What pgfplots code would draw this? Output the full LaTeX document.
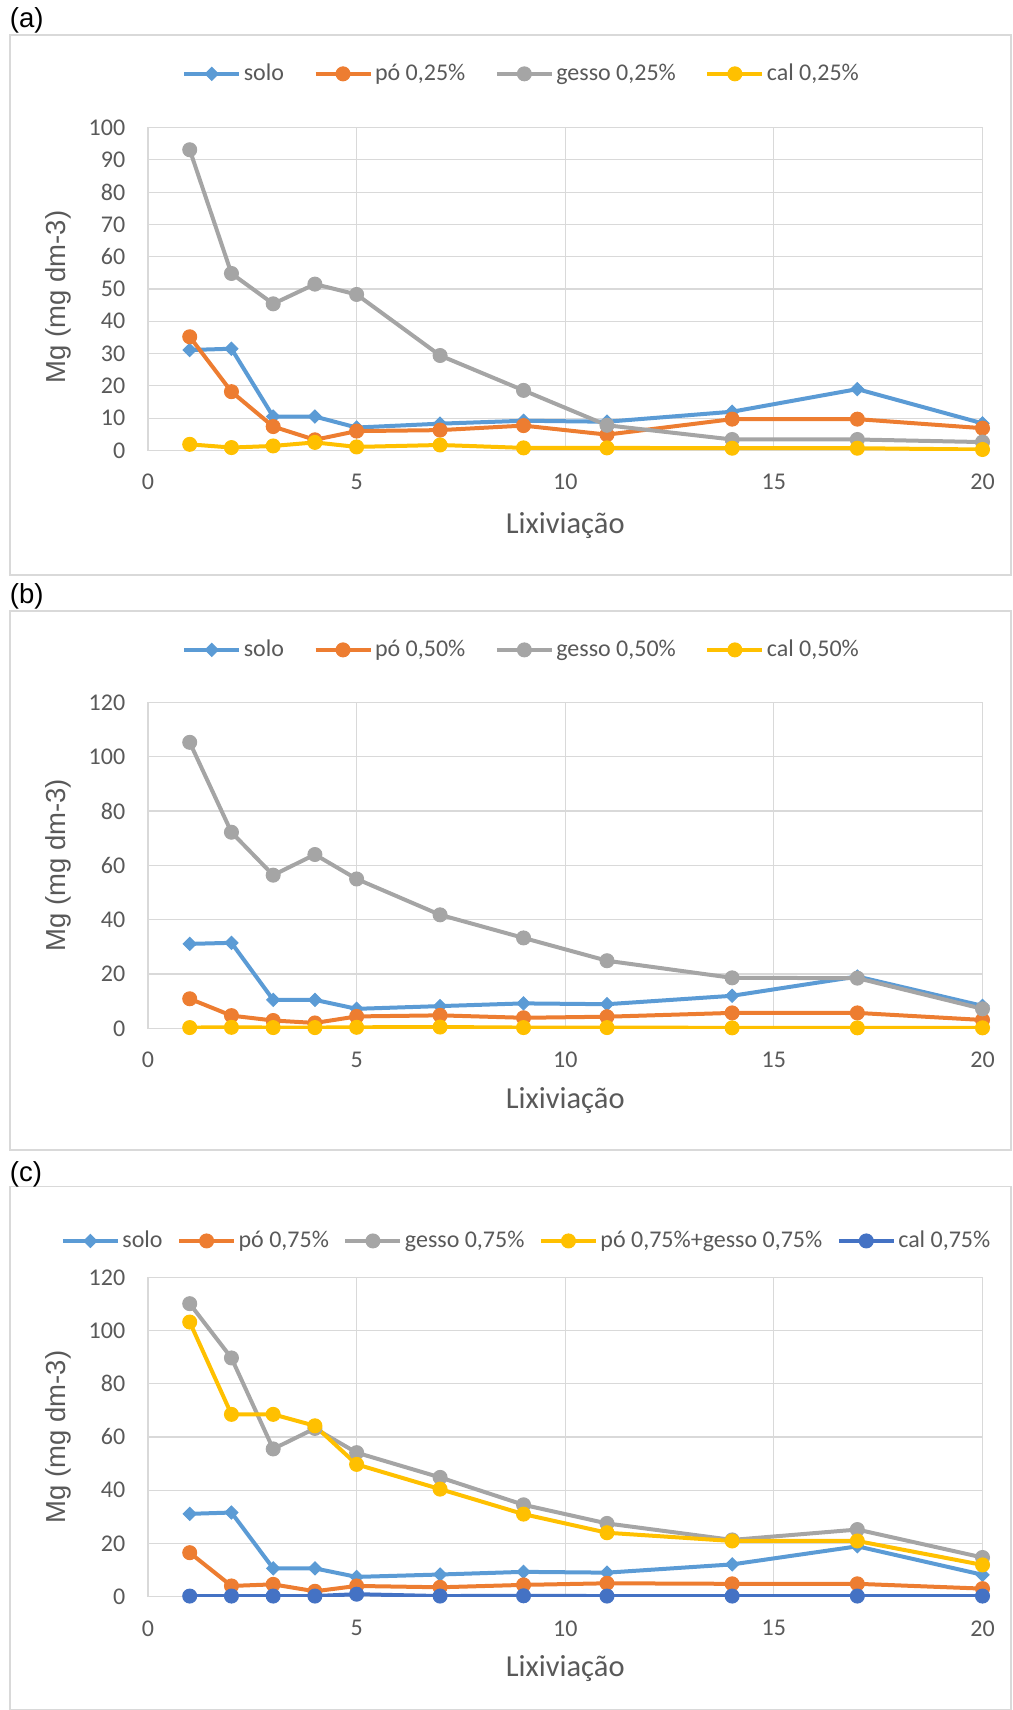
\documentclass[border=0pt]{standalone}
\usepackage{fontspec}
\setmainfont{Carlito}
\newfontfamily\arial{Liberation Sans}
\usepackage{pgfplots}
\pgfplotsset{compat=1.18}
\definecolor{cblue}{HTML}{5B9BD5}
\definecolor{corange}{HTML}{ED7D31}
\definecolor{cgray}{HTML}{A5A5A5}
\definecolor{cyellow}{HTML}{FFC000}
\definecolor{cdblue}{HTML}{4472C4}
\definecolor{gridc}{HTML}{D9D9D9}
\definecolor{txt}{HTML}{595959}
\pgfplotsset{
  panel/.style={
    scale only axis, width=333.8pt,
    xmin=0, xmax=20, ymin=0, xtick={0,5,10,15,20},
    grid=major, grid style={line width=0.45pt, color=gridc},
    axis line style={gridc, line width=0.45pt},
    major tick length=0pt,
    /pgf/number format/assume math mode=true,
    ticklabel style={font=\fontsize{9.6}{11}\selectfont, text=txt},
    xticklabel style={yshift=-6pt},
    yticklabel style={xshift=-5.6pt},
    ylabel={Mg (mg dm-3)},
    xlabel={Lixiviação},
    xlabel style={font=\fontsize{12.2}{14}\selectfont, text=txt},
    legend columns=-1,
    legend style={draw=none, fill=none, font=\fontsize{9.6}{11}\selectfont, text=txt,
      anchor=center, inner sep=0pt,
      nodes={inner xsep=1pt}},
    legend image code/.code={\draw[mark repeat=2,mark phase=2] plot coordinates {(0pt,0pt) (11pt,0pt) (22pt,0pt)};},
  },
  ylab/.style={every axis y label/.style={at={(axis description cs:-0.107,#1)}, rotate=90, anchor=center,
      font=\arial\fontsize{11}{13}\selectfont, text=txt}},
  ser/.style={color=#1, line width=1.6pt, mark=*, mark size=2.8pt, mark options={solid, fill=#1, draw=#1, line width=0.4pt}},
  serd/.style={color=#1, line width=1.6pt, mark=square*, mark size=1.85pt, mark options={solid, rotate=45, fill=#1, draw=#1, line width=0.4pt}},
}
\begin{document}
\begin{tikzpicture}
\path (0,0) rectangle (404.8pt,684pt);
% frames
\draw[gridc, line width=0.45pt] (4pt,454pt) rectangle (404.4pt,670pt);
\draw[gridc, line width=0.45pt] (4pt,224pt) rectangle (404.4pt,439.6pt);
\draw[gridc, line width=0.45pt] (4pt,0.3pt) rectangle (404.4pt,209.4pt);
\node[anchor=west, inner sep=0pt, font=\arial\fontsize{11}{13}\selectfont] at (3.8pt,676pt) {(a)};
\node[anchor=west, inner sep=0pt, font=\arial\fontsize{11}{13}\selectfont] at (3.8pt,445.6pt) {(b)};
\node[anchor=west, inner sep=0pt, font=\arial\fontsize{11}{13}\selectfont] at (3.8pt,214.4pt) {(c)};

% (a)
\begin{axis}[panel, ylab=0.475, at={(59.2pt,503.8pt)}, anchor=south west, height=129.2pt,
  ymax=100, ytick={0,10,...,100},
  xlabel style={at={(axis description cs:0.5,-0.231)}, anchor=center},
  legend style={at={(0.448,1.166)}, /tikz/every even column/.append style={column sep=10.8pt}}]
\addplot[serd=cblue] coordinates {(1,31.1)(2,31.5)(3,10.5)(4,10.5)(5,7.1)(7,8.3)(9,9.2)(11,8.9)(14,12)(17,19)(20,8.4)};
\addlegendentry{solo}
\addplot[ser=corange] coordinates {(1,35.2)(2,18.2)(3,7.4)(4,3.3)(5,6.0)(7,6.3)(9,7.7)(11,4.9)(14,9.7)(17,9.7)(20,6.9)};
\addlegendentry{pó 0,25\%}
\addplot[ser=cgray] coordinates {(1,93.1)(2,54.8)(3,45.4)(4,51.5)(5,48.3)(7,29.4)(9,18.6)(11,7.8)(14,3.4)(17,3.4)(20,2.6)};
\addlegendentry{gesso 0,25\%}
\addplot[ser=cyellow] coordinates {(1,1.9)(2,0.9)(3,1.4)(4,2.5)(5,1.1)(7,1.7)(9,0.8)(11,0.8)(14,0.7)(17,0.7)(20,0.3)};
\addlegendentry{cal 0,25\%}
\end{axis}

% (b)
\begin{axis}[panel, ylab=0.5, at={(59.2pt,272.64pt)}, anchor=south west, height=130.4pt,
  ymax=120, ytick={0,20,...,120},
  xlabel style={at={(axis description cs:0.5,-0.220)}, anchor=center},
  legend style={at={(0.448,1.161)}, /tikz/every even column/.append style={column sep=10.8pt}}]
\addplot[serd=cblue] coordinates {(1,31.1)(2,31.5)(3,10.5)(4,10.5)(5,7.2)(7,8.2)(9,9.2)(11,8.9)(14,12)(17,19.1)(20,8.3)};
\addlegendentry{solo}
\addplot[ser=corange] coordinates {(1,10.9)(2,4.7)(3,2.9)(4,2.0)(5,4.4)(7,4.8)(9,3.9)(11,4.3)(14,5.7)(17,5.7)(20,3.1)};
\addlegendentry{pó 0,50\%}
\addplot[ser=cgray] coordinates {(1,105.3)(2,72.2)(3,56.4)(4,64)(5,55)(7,41.8)(9,33.3)(11,24.9)(14,18.6)(17,18.5)(20,7.2)};
\addlegendentry{gesso 0,50\%}
\addplot[ser=cyellow] coordinates {(1,0.3)(2,0.4)(3,0.3)(4,0.3)(5,0.4)(7,0.5)(9,0.3)(11,0.3)(14,0.2)(17,0.2)(20,0.2)};
\addlegendentry{cal 0,50\%}
\end{axis}

% (c)
\begin{axis}[panel, ylab=0.5, at={(59.2pt,45.36pt)}, anchor=south west, height=127.7pt,
  ymax=120, ytick={0,20,...,120},
  xlabel style={at={(axis description cs:0.5,-0.225)}, anchor=center},
  legend style={at={(0.454,1.114)}, /tikz/every even column/.append style={column sep=4.8pt}}]
\addplot[serd=cblue] coordinates {(1,31.1)(2,31.6)(3,10.6)(4,10.6)(5,7.4)(7,8.3)(9,9.3)(11,9.0)(14,12.1)(17,18.9)(20,8.2)};
\addlegendentry{solo}
\addplot[ser=corange] coordinates {(1,16.5)(2,4.0)(3,4.6)(4,2.0)(5,4.0)(7,3.5)(9,4.4)(11,5.0)(14,4.8)(17,4.8)(20,3.0)};
\addlegendentry{pó 0,75\%}
\addplot[ser=cgray] coordinates {(1,110.1)(2,89.7)(3,55.5)(4,63.2)(5,54.1)(7,44.8)(9,34.5)(11,27.5)(14,21.3)(17,25.2)(20,14.7)};
\addlegendentry{gesso 0,75\%}
\addplot[ser=cyellow] coordinates {(1,103.2)(2,68.5)(3,68.5)(4,64.2)(5,49.7)(7,40.4)(9,31.0)(11,24.0)(14,20.9)(17,20.9)(20,11.9)};
\addlegendentry{pó 0,75\%+gesso 0,75\%}
\addplot[ser=cdblue] coordinates {(1,0.2)(2,0.2)(3,0.2)(4,0.2)(5,0.9)(7,0.2)(9,0.3)(11,0.2)(14,0.2)(17,0.2)(20,0.2)};
\addlegendentry{cal 0,75\%}
\end{axis}
\end{tikzpicture}
\end{document}
